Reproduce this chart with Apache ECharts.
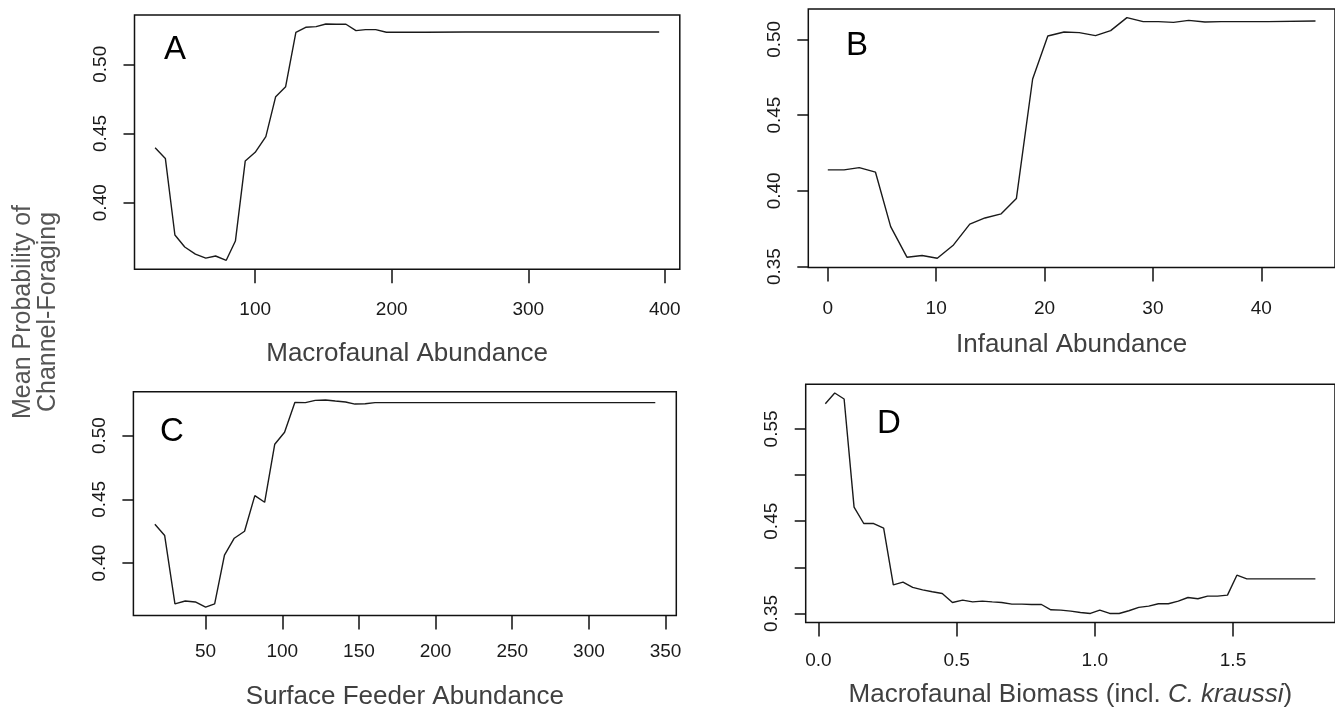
<!DOCTYPE html>
<html>
<head>
<meta charset="utf-8">
<script src="https://cdn.jsdelivr.net/npm/echarts@6/dist/echarts.min.js"></script>
<style>
html,body{margin:0;padding:0;background:#fff;}
#chart{width:1335px;height:713px;}
</style>
</head>
<body>
<div id="chart"></div>
<script>
// ---- Data ----
const A_x = [26.7,34.2,41.2,48.4,56.2,63.8,71.0,78.8,85.5,92.7,100.0,107.8,115.0,122.3,129.8,137.0,144.6,151.8,159.3,166.5,173.8,180.8,188.3,196.1,225,254,290,330,365,395.9];
const A_y = [0.4397,0.432,0.3767,0.368,0.3629,0.360,0.3615,0.3584,0.3723,0.4301,0.4364,0.4477,0.4766,0.4838,0.5231,0.5267,0.5272,0.5291,0.5289,0.5289,0.5243,0.525,0.525,0.5231,0.5231,0.5233,0.5233,0.5233,0.5233,0.5233];

const B_x = [0,1.5,2.9,4.4,5.8,7.3,8.7,10.1,11.6,13.1,14.5,16.0,17.4,18.9,20.3,21.8,23.2,24.7,26.1,27.6,29.1,30.5,31.9,33.3,34.8,36.3,40.6,45.0];
const B_y = [0.4138,0.4138,0.4153,0.4123,0.3764,0.3562,0.3573,0.3555,0.3643,0.378,0.3821,0.3848,0.3949,0.4738,0.5022,0.5048,0.5044,0.5024,0.5057,0.5143,0.5117,0.5117,0.5112,0.5125,0.5114,0.5117,0.5117,0.5121];

const C_x = [16.9,23.3,30.0,36.7,43.3,50.0,55.9,62.3,68.7,75.4,82.1,88.5,95.1,101.5,108.2,115.1,121.5,128.2,134.6,141.3,147.4,154.1,160.5,213,280,343.3];
const C_y = [0.4305,0.4216,0.368,0.3703,0.3695,0.3654,0.368,0.4063,0.4195,0.425,0.4529,0.4477,0.4932,0.5026,0.526,0.5258,0.5276,0.5279,0.5271,0.5263,0.5247,0.525,0.5258,0.5258,0.5258,0.5258];

const D_x = [0.025,0.059,0.093,0.129,0.164,0.200,0.236,0.271,0.306,0.341,0.377,0.412,0.448,0.485,0.522,0.558,0.593,0.629,0.663,0.700,0.736,0.771,0.807,0.841,0.877,0.913,0.948,0.984,1.018,1.054,1.088,1.123,1.159,1.195,1.230,1.266,1.302,1.337,1.373,1.408,1.444,1.480,1.514,1.550,1.798];
const D_y = [0.5774,0.589,0.5825,0.4652,0.4475,0.4475,0.4424,0.381,0.3839,0.3782,0.3756,0.3735,0.3717,0.3619,0.3644,0.3626,0.3634,0.3626,0.3619,0.3601,0.3601,0.3597,0.3597,0.354,0.3536,0.3525,0.3511,0.35,0.3536,0.35,0.35,0.3529,0.3566,0.358,0.3605,0.3605,0.3634,0.3673,0.3659,0.3688,0.3688,0.3699,0.3915,0.3875,0.3875];

// tick values / labels
const A_xticks = [100,200,300,400];
const A_yticks = [0.40,0.45,0.50];
const B_xticks = [0,10,20,30,40];
const B_yticks = [0.35,0.40,0.45,0.50];
const C_xticks = [50,100,150,200,250,300,350];
const C_yticks = [0.40,0.45,0.50];
const D_xticks = [0,0.5,1.0,1.5];
const D_yticks = [0.35,0.40,0.45,0.50,0.55];
const D_ylabels = [0.35,0.45,0.55];

const panelLetters = ['A','B','C','D'];
const xTitles = ['Macrofaunal Abundance','Infaunal Abundance','Surface Feeder Abundance','Macrofaunal Biomass (incl. {i|C. kraussi})'];
const yTitle = 'Mean Probability of\nChannel-Foraging';

// ---- Chart ----
const FONT = '"Liberation Sans", Arial, sans-serif';
const chart = echarts.init(document.getElementById('chart'), null, {renderer:'canvas'});

const grids = [
  {left:134.5, top:15,    right:655.2, bottom:443.7},
  {left:808.3, top:9,     right:-3,    bottom:445.5},
  {left:133.4, top:391.7, right:658.7, bottom:97.5},
  {left:805.7, top:384.3, right:-1.6,  bottom:90.5}
].map(g => Object.assign({show:true, borderColor:'#111', borderWidth:1.5, backgroundColor:'transparent', containLabel:false}, g));

const xr = [[11.6,411.0],[-1.8,46.8],[2.9,357.0],[-0.046,1.869]];
const yr = [[0.3519,0.5356],[0.3494,0.5200],[0.3589,0.5344],[0.3402,0.5984]];
const xt = [A_xticks,B_xticks,C_xticks,D_xticks];
const yt = [A_yticks,B_yticks,C_yticks,D_yticks];
const yl = [A_yticks,B_yticks,C_yticks,D_ylabels];
const xMargin = [31,32,27,29];
const xGap = [72,64,68,59];
const xFmt = [v=>String(Math.round(v)),v=>String(Math.round(v)),v=>String(Math.round(v)),v=>v.toFixed(1)];

const xAxes = [], yAxes = [], series = [];
const xs = [A_x,B_x,C_x,D_x], ys = [A_y,B_y,C_y,D_y];
for (let i=0;i<4;i++){
  xAxes.push({
    type:'value', gridIndex:i, min:xr[i][0], max:xr[i][1], position:'bottom',
    axisLine:{show:false, onZero:false},
    splitLine:{show:false},
    axisTick:{show:true, inside:false, length:14, customValues:xt[i], lineStyle:{color:'#111', width:1.5}},
    axisLabel:{show:true, customValues:xt[i], margin:xMargin[i], fontSize:19, color:'#1a1a1a', fontFamily:FONT, formatter:xFmt[i]},
    name:xTitles[i], nameLocation:'middle', nameGap:xGap[i], nameMoveOverlap:false,
    nameTextStyle:{fontSize:26, color:'#404040', fontFamily:FONT,
      rich:{i:{fontStyle:'italic', fontSize:26, color:'#404040', fontFamily:FONT}}}
  });
  yAxes.push({
    type:'value', gridIndex:i, min:yr[i][0], max:yr[i][1], position:'left',
    axisLine:{show:false, onZero:false},
    splitLine:{show:false},
    axisTick:{show:true, inside:false, length:11, customValues:yt[i], lineStyle:{color:'#111', width:1.5}},
    axisLabel:{show:true, customValues:yl[i], rotate:90, margin:24, fontSize:19, color:'#1a1a1a', fontFamily:FONT, formatter:v=>v.toFixed(2)}
  });
  series.push({
    type:'line', xAxisIndex:i, yAxisIndex:i,
    data: xs[i].map((x,k)=>[x, ys[i][k]]),
    showSymbol:false, symbol:'none', smooth:false,
    lineStyle:{color:'#1a1a1a', width:1.4},
    animation:false
  });
}

const letterPos = [[175,50],[857,46],[172,432],[889,424]];
const graphics = panelLetters.map((t,i)=>({
  type:'text', x:letterPos[i][0], y:letterPos[i][1],
  style:{text:t, fontSize:33, fontFamily:FONT, fill:'#000', textAlign:'center', textVerticalAlign:'middle'}
}));
graphics.push({
  type:'text', x:36, y:312, rotation:Math.PI/2,
  style:{text:yTitle, fontSize:25, lineHeight:25, fontFamily:FONT, fill:'#555', textAlign:'center', textVerticalAlign:'middle'}
});

chart.setOption({
  animation:false,
  grid:grids,
  xAxis:xAxes,
  yAxis:yAxes,
  series:series,
  graphic:graphics
});
</script>
</body>
</html>
